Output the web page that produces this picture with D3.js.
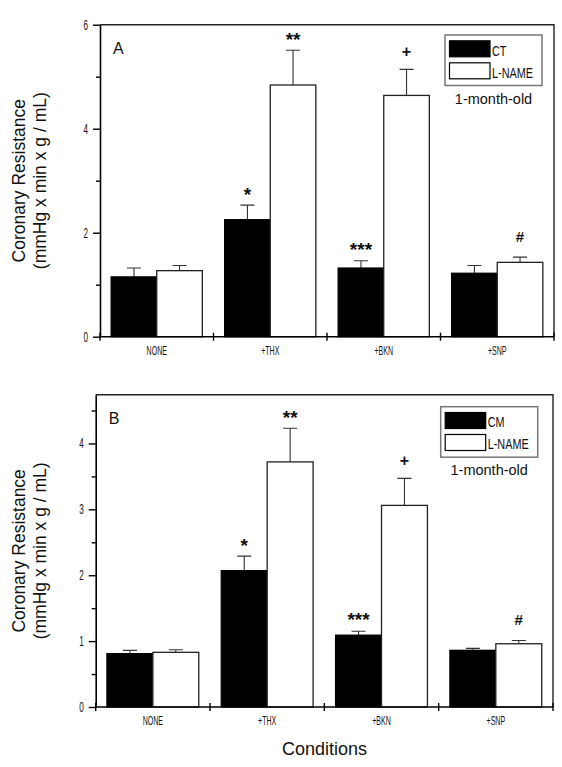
<!DOCTYPE html>
<html><head><meta charset="utf-8">
<script src="https://cdn.jsdelivr.net/npm/d3@7"></script>
<style>
html,body{margin:0;padding:0;background:#fff;}
svg{display:block;}
</style></head>
<body>
<svg id="chart" width="562" height="767"></svg>
<script>
// ---------- data ----------
const categories = ["NONE", "+THX", "+BKN", "+SNP"];

const seriesA = ["CT", "L-NAME"];
const ctA      = [1.15, 2.25, 1.32, 1.22];
const ctAErr   = [0.17, 0.28, 0.14, 0.15];
const lnameA   = [1.27, 4.84, 4.64, 1.43];
const lnameAErr= [0.10, 0.67, 0.50, 0.10];
const ctAMarks    = ["", "*", "***", ""];
const lnameAMarks = ["", "**", "+", "#"];

const seriesB = ["CM", "L-NAME"];
const cmB      = [0.81, 2.07, 1.09, 0.86];
const cmBErr   = [0.05, 0.22, 0.06, 0.03];
const lnameB   = [0.83, 3.72, 3.06, 0.96];
const lnameBErr= [0.04, 0.51, 0.41, 0.05];
const cmBMarks    = ["", "*", "***", ""];
const lnameBMarks = ["", "**", "+", "#"];

const majorTicksA = [0, 2, 4, 6];
const minorTicksA = [1, 3, 5];
const majorTicksB = [0, 1, 2, 3, 4];
const minorTicksB = [0.5, 1.5, 2.5, 3.5, 4.5];

const yTitle1 = "Coronary Resistance";
const yTitle2 = "(mmHg x min x g / mL)";
const xTitle = "Conditions";
const ageLabel = "1-month-old";

// ---------- drawing ----------
const svg = d3.select("#chart");
const SANS = "'Liberation Sans',Arial,Helvetica,sans-serif";

function panel(cfg) {
  const g = svg.append("g");
  const x0 = d3.scaleBand().domain(categories).range([cfg.left, cfg.right]).padding(0);
  const x1 = d3.scaleBand().domain(cfg.series).range([0, x0.bandwidth()]).paddingInner(0).paddingOuter(0.245);
  const y = d3.scaleLinear().domain([0, cfg.ymax]).range([cfg.bottom, cfg.top]);

  // frame (top + right)
  g.append("path")
    .attr("d", `M${cfg.left},${cfg.top}H${cfg.right}V${cfg.bottom}`)
    .attr("fill", "none").attr("stroke", "#222").attr("stroke-width", 1.4);

  const rows = categories.map((c, i) => ({
    cat: c,
    vals: cfg.series.map((s, j) => ({
      s, j, v: cfg.values[j][i], e: cfg.errors[j][i], m: cfg.marks[j][i]
    }))
  }));

  const grp = g.selectAll("g.cat").data(rows).join("g")
    .attr("transform", d => `translate(${x0(d.cat)},0)`);

  // error bars (up only)
  grp.selectAll("path.err").data(d => d.vals).join("path")
    .attr("class", "err")
    .attr("d", d => {
      const cx = x1(d.s) + x1.bandwidth() / 2;
      return `M${cx},${y(d.v)}V${y(d.v + d.e)}M${cx - 7},${y(d.v + d.e)}H${cx + 7}`;
    })
    .attr("fill", "none").attr("stroke", "#333").attr("stroke-width", 1.1);

  // bars
  grp.selectAll("rect.bar").data(d => d.vals).join("rect")
    .attr("class", "bar")
    .attr("x", d => x1(d.s))
    .attr("width", x1.bandwidth())
    .attr("y", d => y(d.v))
    .attr("height", d => y(0) - y(d.v))
    .attr("fill", d => d.j === 0 ? "#000" : "#fff")
    .attr("stroke", d => d.j === 0 ? "#000" : "#222")
    .attr("stroke-width", 1.3);

  // significance marks
  const gap = {"*": 4, "**": 4, "***": 5, "+": 12, "#": 15};
  const fs = {"*": 19, "**": 19, "***": 19, "+": 16, "#": 15};
  grp.selectAll("text.mark").data(d => d.vals.filter(v => v.m)).join("text")
    .attr("class", "mark")
    .attr("x", d => x1(d.s) + x1.bandwidth() / 2)
    .attr("y", d => y(d.v + d.e) - gap[d.m])
    .attr("text-anchor", "middle")
    .attr("font-family", SANS)
    .attr("font-weight", "bold")
    .attr("font-size", d => fs[d.m])
    .attr("fill", "#111")
    .text(d => d.m);

  // y axis
  const yAxis = g.append("g").attr("transform", `translate(${cfg.left},0)`)
    .call(d3.axisLeft(y).tickValues(cfg.major).tickSize(7).tickPadding(5).tickSizeOuter(0).tickFormat(d3.format("d")));
  yAxis.select(".domain").attr("stroke", "#000").attr("stroke-width", 1.6);
  yAxis.selectAll(".tick line").attr("stroke", "#000").attr("stroke-width", 1.4);
  yAxis.selectAll(".tick text")
    .attr("font-family", SANS).attr("font-size", 14).attr("fill", "#111")
    .each(function () {
      const t = d3.select(this);
      t.attr("transform", "scale(0.58,1)").attr("x", (+t.attr("x")) / 0.58);
    });
  const yMinor = g.append("g").attr("transform", `translate(${cfg.left},0)`)
    .call(d3.axisLeft(y).tickValues(cfg.minor).tickSize(4).tickFormat(""));
  yMinor.select(".domain").remove();
  yMinor.selectAll(".tick line").attr("stroke", "#000").attr("stroke-width", 1.4);

  // x axis line
  g.append("line")
    .attr("x1", cfg.left).attr("x2", cfg.right)
    .attr("y1", y(0)).attr("y2", y(0))
    .attr("stroke", "#000").attr("stroke-width", 1.6);
  const edges = categories.map(c => x0(c)).concat([cfg.right]);
  g.selectAll("line.xt").data(edges).join("line")
    .attr("class", "xt")
    .attr("x1", d => d).attr("x2", d => d)
    .attr("y1", y(0) - 4).attr("y2", y(0) + 4)
    .attr("stroke", "#000").attr("stroke-width", 1.4);
  g.selectAll("text.xl").data(categories).join("text")
    .attr("class", "xl")
    .attr("transform", d => `translate(${x0(d) + x0.bandwidth() / 2},${y(0) + 18}) scale(0.55,1)`)
    .attr("text-anchor", "middle")
    .attr("font-family", SANS).attr("font-size", 12.8).attr("fill", "#111")
    .text(d => d);

  // y title
  const ymid = (cfg.top + cfg.bottom) / 2;
  [[yTitle1, 25], [yTitle2, 46]].forEach(([t, bx]) => {
    g.append("text")
      .attr("transform", `translate(${bx},${ymid}) rotate(-90)`)
      .attr("text-anchor", "middle")
      .attr("font-family", SANS).attr("font-size", 17.5).attr("fill", "#111")
      .text(t);
  });

  // panel letter
  g.append("text").attr("x", cfg.left + 13).attr("y", cfg.top + 29.5)
    .attr("font-family", SANS).attr("font-size", 16).attr("fill", "#111")
    .text(cfg.letter);

  // legend
  const L = cfg.legend;
  const lg = g.append("g").attr("transform", `translate(${L.x},${L.y})`);
  lg.append("rect").attr("x", 0).attr("y", 0).attr("width", 97).attr("height", 50.5)
    .attr("fill", "#fff").attr("stroke", "#777").attr("stroke-width", 1.5);
  cfg.series.forEach((s, j) => {
    lg.append("rect").attr("x", 4.5).attr("y", 5.8 + j * 22).attr("width", 40.5).attr("height", 16)
      .attr("fill", j === 0 ? "#000" : "#fff").attr("stroke", "#000").attr("stroke-width", 1.2);
    lg.append("text")
      .attr("transform", `translate(47,${20.5 + j * 22}) scale(0.7,1)`)
      .attr("font-family", SANS).attr("font-size", 15.5).attr("fill", "#111")
      .text(s);
  });
  lg.append("text").attr("x", 48.5).attr("y", 68.5)
    .attr("text-anchor", "middle")
    .attr("font-family", SANS).attr("font-size", 14.5).attr("fill", "#111")
    .text(ageLabel);
}

panel({
  letter: "A", series: seriesA,
  values: [ctA, lnameA], errors: [ctAErr, lnameAErr], marks: [ctAMarks, lnameAMarks],
  left: 100, right: 554, top: 24.7, bottom: 336.7, ymax: 6,
  major: majorTicksA, minor: minorTicksA,
  legend: {x: 445, y: 35}
});

panel({
  letter: "B", series: seriesB,
  values: [cmB, lnameB], errors: [cmBErr, lnameBErr], marks: [cmBMarks, lnameBMarks],
  left: 95.7, right: 553, top: 394.7, bottom: 707, ymax: 4.74,
  major: majorTicksB, minor: minorTicksB,
  legend: {x: 440.7, y: 406.7}
});

svg.append("text")
  .attr("x", 324.5).attr("y", 755)
  .attr("text-anchor", "middle")
  .attr("font-family", SANS).attr("font-size", 18).attr("fill", "#111")
  .text(xTitle);
</script>
</body></html>
